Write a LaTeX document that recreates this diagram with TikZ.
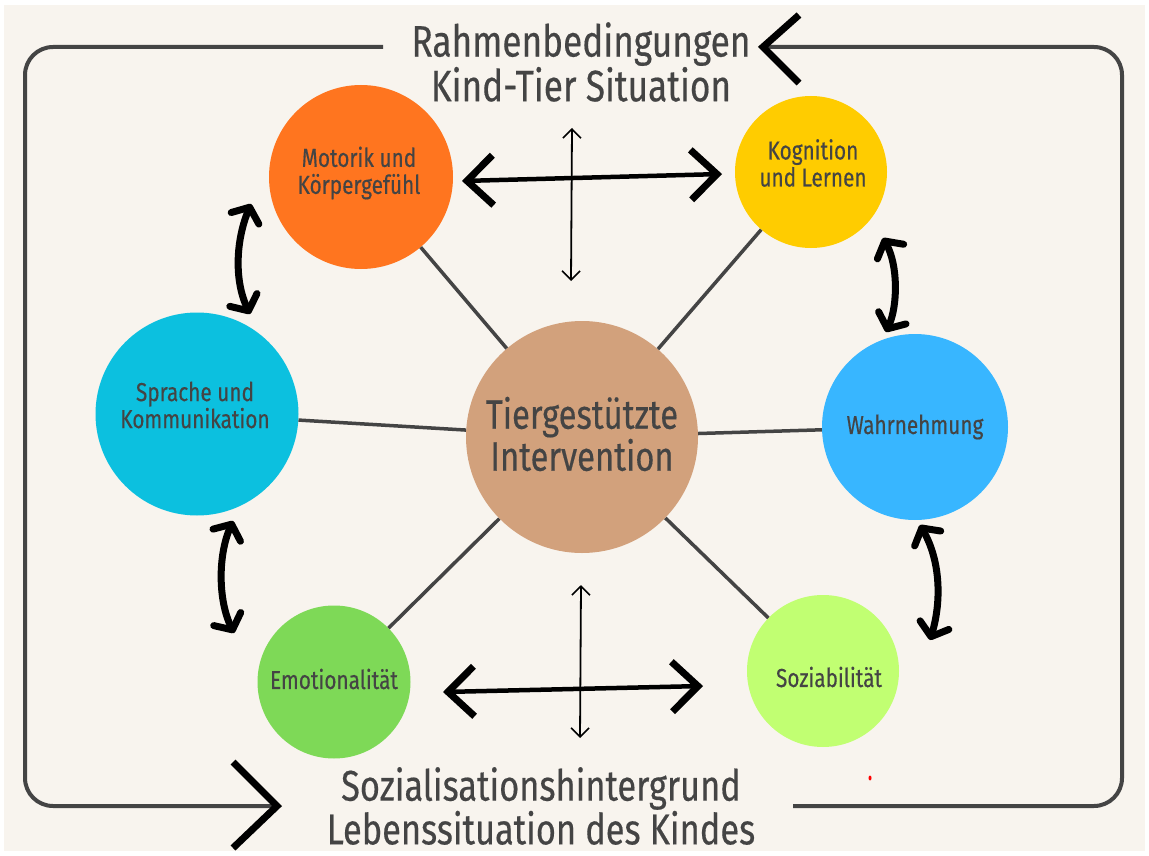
\documentclass[tikz,border=0pt]{standalone}
\usepackage{fontspec}
\setmainfont{Fira Sans}
\newfontfamily\cond[FakeStretch=0.8,FakeBold=0.35]{Fira Sans}
\usetikzlibrary{arrows.meta,calc}
\definecolor{bg}{HTML}{F8F4EE}
\definecolor{ink}{HTML}{444444}
\definecolor{cOrange}{HTML}{FF751F}
\definecolor{cYellow}{HTML}{FFCC00}
\definecolor{cCyan}{HTML}{0CC0DF}
\definecolor{cBlue}{HTML}{38B6FF}
\definecolor{cGreen}{HTML}{7ED957}
\definecolor{cLime}{HTML}{C1FF72}
\definecolor{cTan}{HTML}{D2A17C}
\tikzset{
  circ/.style={circle, draw=none, inner sep=0pt},
  ctext/.style={align=center, text=ink, inner sep=0pt,
    font=\cond\fontsize{26}{27}\selectfont},
  frameline/.style={draw=ink, line width=4pt, rounded corners=28pt},
  spoke/.style={draw=ink, line width=3.5pt},
  chev/.style={draw=black, line width=7pt, line join=miter, line cap=butt},
  dblarrow/.style={draw=black, line width=7pt, line cap=round,
    {Straight Barb[length=12pt,width=30pt,round]}-{Straight Barb[length=12pt,width=30pt,round]}},
  bigarrow/.style={draw=black, line width=4.5pt,
    {Straight Barb[length=26pt,width=50pt,line width=7pt]}-{Straight Barb[length=26pt,width=50pt,line width=7pt]}},
  thinarrow/.style={draw=black, line width=1.8pt,
    {Straight Barb[length=9pt,width=18pt,line width=1.6pt]}-{Straight Barb[length=9pt,width=18pt,line width=1.6pt]}},
  bigtext/.style={align=center, text=ink, inner sep=0pt,
    font=\cond\fontsize{44}{41}\selectfont},
}
\begin{document}
\begin{tikzpicture}[x=1pt,y=-1pt]
\useasboundingbox (0,0) rectangle (1149,856);
\fill[white] (0,0) rectangle (1149,856);
\fill[bg] (4,5) rectangle (1145,851);

% frame
\coordinate (fTL) at (383,47);
\coordinate (fBL) at (277,806);
\coordinate (fBR) at (793,806);
\coordinate (fTR) at (763,47);
\draw[frameline] (fTL) -- (25,47) -- (25,806) -- (fBL);
\draw[frameline] (fBR) -- (1122,806) -- (1122,47) -- (fTR);
\draw[chev] ($(fTR)+(36,-32)$) -- (fTR) -- ($(fTR)+(36,36)$);
\draw[chev] ($(fBL)+(-44,-44)$) -- (fBL) -- ($(fBL)+(-44,42)$);

% titles
\node[bigtext] (top) at (581,62) {Rahmenbedingungen\\Kind-Tier Situation};
\node[bigtext, font=\cond\fontsize{43}{40}\selectfont] (bot) at (541,806) {Sozialisationshintergrund\\Lebenssituation des Kindes};

% circles
\node[circ, fill=cTan, minimum size=232pt] (c) at (582,437) {};
\node[circ, fill=cOrange, minimum size=184pt] (mot) at (361,177) {};
\node[circ, fill=cYellow, minimum size=152pt] (kog) at (811,172) {};
\node[circ, fill=cCyan, minimum size=203pt] (spr) at (197,414) {};
\node[circ, fill=cBlue, minimum size=186pt] (wah) at (915,427) {};
\node[circ, fill=cGreen, minimum size=153pt] (emo) at (334,682) {};
\node[circ, fill=cLime, minimum size=152pt] (soz) at (823,671) {};

% circle texts
\node[ctext, font=\cond\fontsize{41}{42}\selectfont] (ct) at ($(c)+(0,-3)$) {Tiergestützte\\Intervention};
\node[ctext] (mott) at ($(mot)+(-2,-4)$) {Motorik und\\Körpergefühl};
\node[ctext] (kogt) at ($(kog)+(2,-9)$) {Kognition\\und Lernen};
\node[ctext] (sprt) at ($(spr)+(-2,-9)$) {Sprache und\\Kommunikation};
\node[ctext] (waht) at ($(wah)+(0,0)$) {Wahrnehmung};
\node[ctext] (emot) at ($(emo)+(0,-3)$) {Emotionalität};
\node[ctext] (sozt) at ($(soz)+(6,6)$) {Soziabilität};

% spokes
\draw[spoke] (c) -- (mot);
\draw[spoke] (c) -- (kog);
\draw[spoke] (c) -- (spr);
\draw[spoke] (c) -- (wah);
\draw[spoke] (c) -- (emo);
\draw[spoke] (c) -- (soz);

% curved double arrows
\coordinate (a1t) at (251,204);
\coordinate (a1b) at (250,314);
\draw[dblarrow] (a1t) .. controls (236,240) and (234,280) .. (a1b);
\coordinate (a2t) at (233,521);
\coordinate (a2b) at (234,633);
\draw[dblarrow] (a2t) .. controls (218,555) and (218,600) .. (a2b);
\coordinate (a3t) at (883,238);
\coordinate (a3b) at (886,332);
\draw[dblarrow] (a3t) .. controls (898,265) and (898,305) .. (a3b);
\coordinate (a4t) at (920,525);
\coordinate (a4b) at (930,640);
\draw[dblarrow] (a4t) .. controls (940,560) and (942,600) .. (a4b);

% crosses
\coordinate (h1l) at (462,181);
\coordinate (h1r) at (722,174);
\draw[bigarrow] (h1l) -- (h1r);
\coordinate (v1t) at (572,128);
\coordinate (v1b) at (571,281);
\draw[thinarrow] (v1t) -- (v1b);
\coordinate (h2l) at (443,692);
\coordinate (h2r) at (703,686);
\draw[bigarrow] (h2l) -- (h2r);
\coordinate (v2t) at (581,585);
\coordinate (v2b) at (580,738);
\draw[thinarrow] (v2t) -- (v2b);

% small red mark
\fill[red] (870,778) ellipse (1.5pt and 2.5pt);
\end{tikzpicture}
\end{document}
